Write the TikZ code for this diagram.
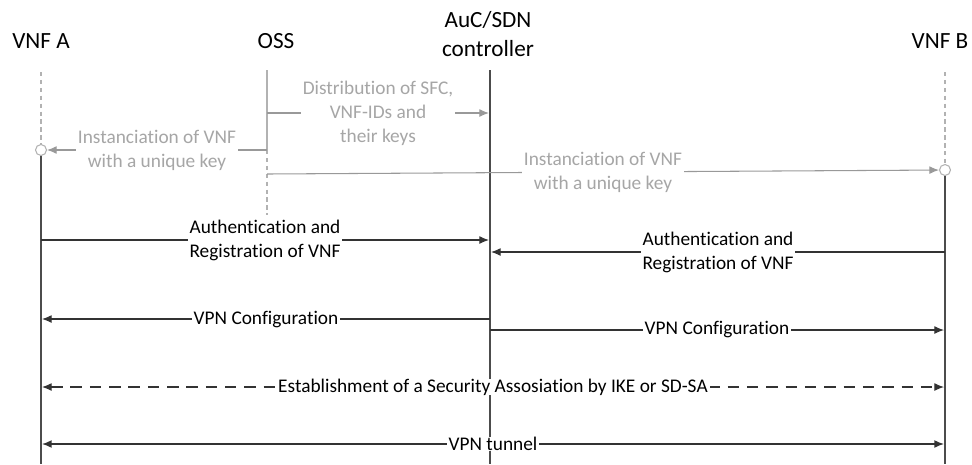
\documentclass[tikz,border=0pt]{standalone}
\usepackage{fontspec}
\setmainfont{Carlito}[Ligatures={NoCommon,NoContextual}]
\usetikzlibrary{arrows.meta}

\begin{document}
\begin{tikzpicture}[x=0.02cm, y=-0.02cm,
  head/.style={font=\fontsize{13.2}{16.5}\selectfont, align=center, inner sep=0pt},
  lbl/.style={font=\fontsize{11}{13.6}\selectfont, align=center, fill=white, inner xsep=1pt, inner ysep=0pt},
  greylbl/.style={lbl, text=black!35},
  life/.style={draw=black!70, line width=0.8pt},
  greylife/.style={draw=black!30, line width=0.8pt},
  msg/.style={draw=black!80, line width=0.6pt, -{Latex[length=5.5pt,width=4.5pt]}},
  greymsg/.style={draw=black!40, line width=0.6pt, -{Latex[length=5.5pt,width=4.5pt]}},
  both/.style={draw=black!80, line width=0.6pt, {Latex[length=5.5pt,width=4.5pt]}-{Latex[length=5.5pt,width=4.5pt]}},
  keydot/.style={circle, draw=black!30, fill=white, minimum size=2.2mm, inner sep=0pt, line width=0.6pt}
]
\useasboundingbox (0,0) rectangle (972,464);

% headers
\node[head] (vnfa) at (41,41) {VNF A};
\node[head] (oss) at (276,41) {OSS};
\node[head] (auc) at (488,34) {AuC/SDN\\controller};
\node[head] (vnfb) at (940,41) {VNF B};

% lifelines
\coordinate (a0) at (41,72);
\node[keydot] (ka) at (41,150) {};
\coordinate (aend) at (41,464);
\coordinate (o0) at (267,70);
\coordinate (o2) at (267,150);
\coordinate (oend) at (267,215);
\coordinate (c0) at (490,70);
\coordinate (cend) at (490,464);
\coordinate (b0) at (945,72);
\node[keydot] (kb) at (945,170) {};
\coordinate (bend) at (945,464);

\draw[greylife, dash pattern=on 2.5pt off 2pt] (a0) -- (ka);
\draw[life] (ka) -- (aend);
\draw[greylife] (o0) -- (o2);
\draw[greylife, dash pattern=on 2.5pt off 2pt] (o2) -- (oend);
\draw[life] (c0) -- (cend);
\draw[greylife, dash pattern=on 2.5pt off 2pt] (b0) -- (kb);
\draw[life] (kb) -- (bend);

% OSS messages
\coordinate (o1) at (267,113);
\coordinate (c1) at (489,113);
\coordinate (o3) at (267,174);
\draw[greymsg] (o1) -- node[greylbl] {Distribution of SFC,\\VNF-IDs and\\their keys} (c1);
\draw[greymsg] (o2) -- node[greylbl] {Instanciation of VNF\\with a unique key} (ka);
\draw[greymsg] (o3) -- node[greylbl] {Instanciation of VNF\\with a unique key} (kb);

% registration
\coordinate (a4) at (41,240);
\coordinate (c4) at (489,240);
\coordinate (b5) at (945,252);
\coordinate (c5) at (491,252);
\draw[msg] (a4) -- node[lbl] {Authentication and\\Registration of VNF} (c4);
\draw[msg] (b5) -- node[lbl] {Authentication and\\Registration of VNF} (c5);

% configuration
\coordinate (c6) at (490,319);
\coordinate (a6) at (42,319);
\coordinate (c7) at (490,330);
\coordinate (b7) at (944,330);
\draw[msg] (c6) -- node[lbl] {VPN Configuration} (a6);
\draw[msg] (c7) -- node[lbl] {VPN Configuration} (b7);

% security association and tunnel
\coordinate (a8) at (42,387);
\coordinate (b8) at (944,387);
\coordinate (a9) at (42,444);
\coordinate (b9) at (944,444);
\draw[both, dash pattern=on 6.5pt off 4.5pt] (a8) -- node[lbl] {Establishment of a Security Assosiation by IKE or SD-SA} (b8);
\draw[both, line width=0.8pt] (a9) -- node[lbl] {VPN tunnel} (b9);

\end{tikzpicture}
\end{document}
